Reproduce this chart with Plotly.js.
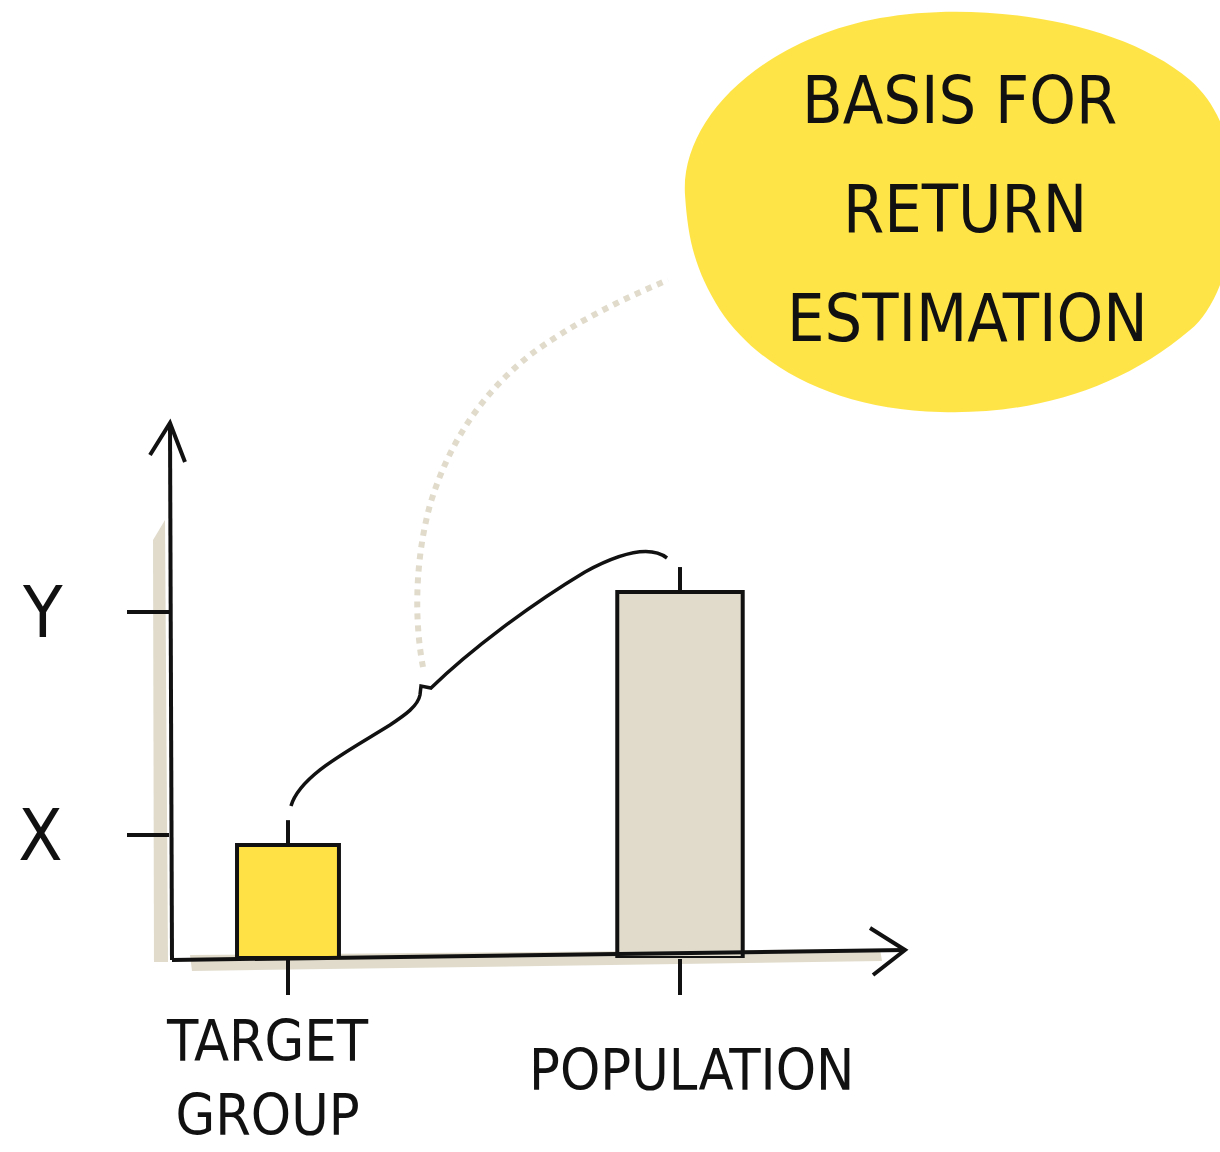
<!DOCTYPE html>
<html>
<head>
<meta charset="utf-8">
<script src="https://cdn.plot.ly/plotly-3.0.1.min.js"></script>
<style>html,body{margin:0;padding:0;background:#fff;}#chart{width:1220px;height:1152px;}</style>
</head>
<body>
<div id="chart"></div>
<script>
// ---- data ----
const categories = ["TARGET<br>GROUP", "POPULATION"];
const categoryPos = [0, 1];
const values = [1.0, 3.24];
const barWidths = [0.26, 0.32];
const barColors = ["#FFE145", "#E0DBCB"];
const yTickVals = [1.09, 3.06];
const yTickText = ["X", "Y"];
const calloutLines = ["BASIS FOR", "RETURN", "ESTIMATION"];

// ---- layout helpers (pixel -> paper) ----
const L = 170, R = 315, T = 430, B = 194, W = 1220, H = 1152;
const pw = W - L - R, ph = H - T - B;
const px = x => ((x - L) / pw).toFixed(4);
const py = y => ((H - B - y) / ph).toFixed(4);
function path(pts) {
  return pts.replace(/(-?\d+(\.\d+)?),(-?\d+(\.\d+)?)/g, (m, a, _, b) => px(+a) + "," + py(+b));
}
const FONT = "'DejaVu Sans Condensed', 'Liberation Sans Narrow', 'Roboto', sans-serif";
const INK = "#111";
const LW = 4;

const shapes = [
  {type: "path", xref: "paper", yref: "paper", layer: "below", line: {width: 0}, fillcolor: "#E0DBCB",
   path: path("M 153,540 L 165,520 L 168,962 L 154,962 Z")},
  {type: "path", xref: "paper", yref: "paper", layer: "below", line: {width: 0}, fillcolor: "#E0DBCB",
   path: path("M 190,955 L 880,949 L 882,961 L 192,971 Z")},
  {type: "path", xref: "paper", yref: "paper", layer: "below", line: {width: 0}, fillcolor: "#FFE448",
   path: path("M 685,195 C 680,120 760,40 880,18 C 980,0 1120,20 1190,80 C 1260,140 1240,290 1190,330 C 1120,390 1030,415 940,412 C 840,410 760,370 720,310 C 695,270 688,240 685,195 Z")},
  {type: "path", xref: "paper", yref: "paper", layer: "below", line: {color: "#E0DBCB", width: 6, dash: "6px,6px"},
   path: path("M 423,667 C 414,620 415,560 430,505 C 448,445 480,395 530,355 C 570,325 620,300 668,280")},
  {type: "path", xref: "paper", yref: "paper", line: {color: INK, width: 3.5},
   path: path("M 291,806 C 300,775 350,750 390,725 C 405,715 418,706 420,695 L 421,686 L 431,688 C 470,650 530,605 585,572 C 620,553 650,545 667,558")},
  {type: "path", xref: "paper", yref: "paper", line: {color: INK, width: LW},
   path: path("M 150,455 L 170,423 L 185,462")},
  {type: "path", xref: "paper", yref: "paper", line: {color: INK, width: LW},
   path: path("M 870,928 L 905,950 L 873,975")},
  {type: "line", xref: "paper", yref: "paper", x0: +px(172), x1: +px(905), y0: +py(960), y1: +py(950), line: {color: INK, width: LW}},
  {type: "line", xref: "paper", yref: "paper", x0: +px(172), x1: +px(170), y0: +py(960), y1: +py(425), line: {color: INK, width: LW}}
];
values.forEach((v, i) => {
  shapes.push({type: "line", xref: "x", yref: "y", x0: categoryPos[i], x1: categoryPos[i],
    y0: v, y1: v + 0.22, line: {color: INK, width: LW}});
});

const annotations = calloutLines.map((t, i) => ({
  xref: "paper", yref: "paper", x: +px([960, 965, 968][i]), y: +py([100, 210, 318][i]),
  text: t, showarrow: false, xanchor: "center", yanchor: "middle",
  font: {family: FONT, size: 66, color: INK, weight: 300}
}));
categories.forEach((c, i) => {
  annotations.push({
    xref: "x", yref: "paper", x: categoryPos[i], y: +py([1078, 1070][i]),
    xshift: [-20, 12][i], text: c, showarrow: false, xanchor: "center", yanchor: "middle",
    font: {family: FONT, size: 57, color: INK, weight: 300}
  });
});

const trace = {
  type: "bar",
  x: categoryPos,
  y: values,
  width: barWidths,
  marker: {color: barColors, line: {color: INK, width: LW}},
  hoverinfo: "skip"
};

const layout = {
  width: W, height: H,
  margin: {l: L, r: R, t: T, b: B, pad: 0},
  paper_bgcolor: "#ffffff", plot_bgcolor: "rgba(0,0,0,0)",
  showlegend: false,
  xaxis: {
    range: [-0.301, 1.574], showgrid: false, zeroline: false, showline: false,
    tickvals: categoryPos, ticktext: categories, showticklabels: false,
    ticks: "outside", ticklen: 36, tickwidth: LW, tickcolor: INK, fixedrange: true
  },
  yaxis: {
    range: [0, 4.673], showgrid: false, zeroline: false, showline: false,
    tickvals: yTickVals, ticktext: yTickText, ticks: "outside", ticklen: 42, tickwidth: LW, tickcolor: INK,
    ticklabelstandoff: 50,
    tickfont: {family: FONT, size: 72, color: INK, weight: 300}, fixedrange: true
  },
  shapes: shapes,
  annotations: annotations
};

Plotly.newPlot("chart", [trace], layout, {displayModeBar: false, staticPlot: true});
</script>
</body>
</html>
